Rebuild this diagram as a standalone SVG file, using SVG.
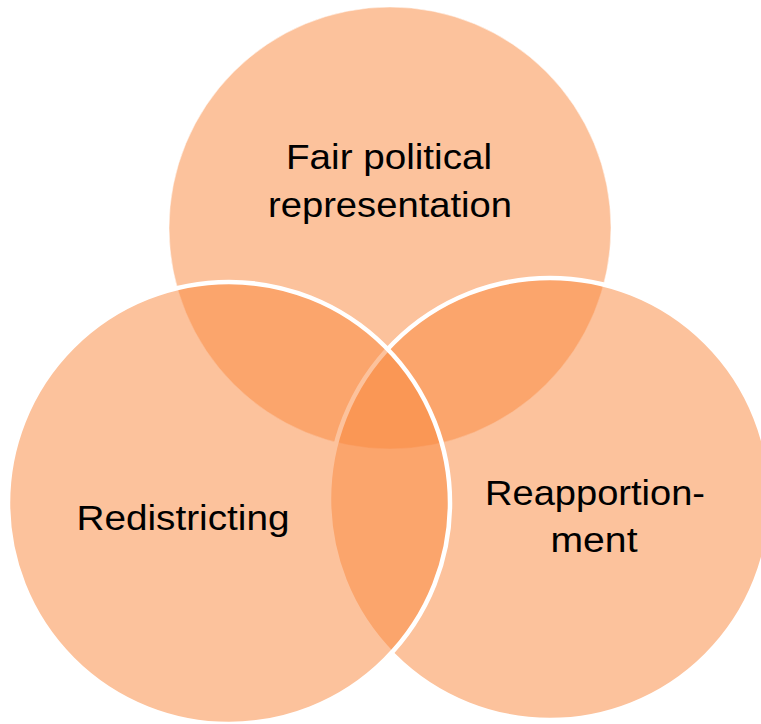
<svg xmlns="http://www.w3.org/2000/svg" width="761" height="724" viewBox="0 0 761 724">
<style>
.c{fill:#F98B41;fill-opacity:0.52;stroke:#fff;stroke-width:4.5}
.t{font-family:"Liberation Sans",Arial,sans-serif;font-size:35px;fill:#000;text-anchor:middle}
</style>
<rect width="761" height="724" fill="#fff"/>
<g id="top"><circle cx="390" cy="228" r="221" class="c" style="stroke-width:1;stroke-opacity:0.5"/></g>
<g id="right"><circle cx="550" cy="499" r="221" class="c"/></g>
<g id="left"><circle cx="229" cy="503" r="221" class="c"/></g>
<g id="labels">
<text class="t" x="389" y="169" textLength="206" lengthAdjust="spacingAndGlyphs">Fair political</text>
<text class="t" x="390" y="217" textLength="244" lengthAdjust="spacingAndGlyphs">representation</text>
<text class="t" x="183" y="530" textLength="213" lengthAdjust="spacingAndGlyphs">Redistricting</text>
<text class="t" x="595" y="505" textLength="220" lengthAdjust="spacingAndGlyphs">Reapportion-</text>
<text class="t" x="594" y="552" textLength="87" lengthAdjust="spacingAndGlyphs">ment</text>
</g>
<g id="connectors"></g>
</svg>
